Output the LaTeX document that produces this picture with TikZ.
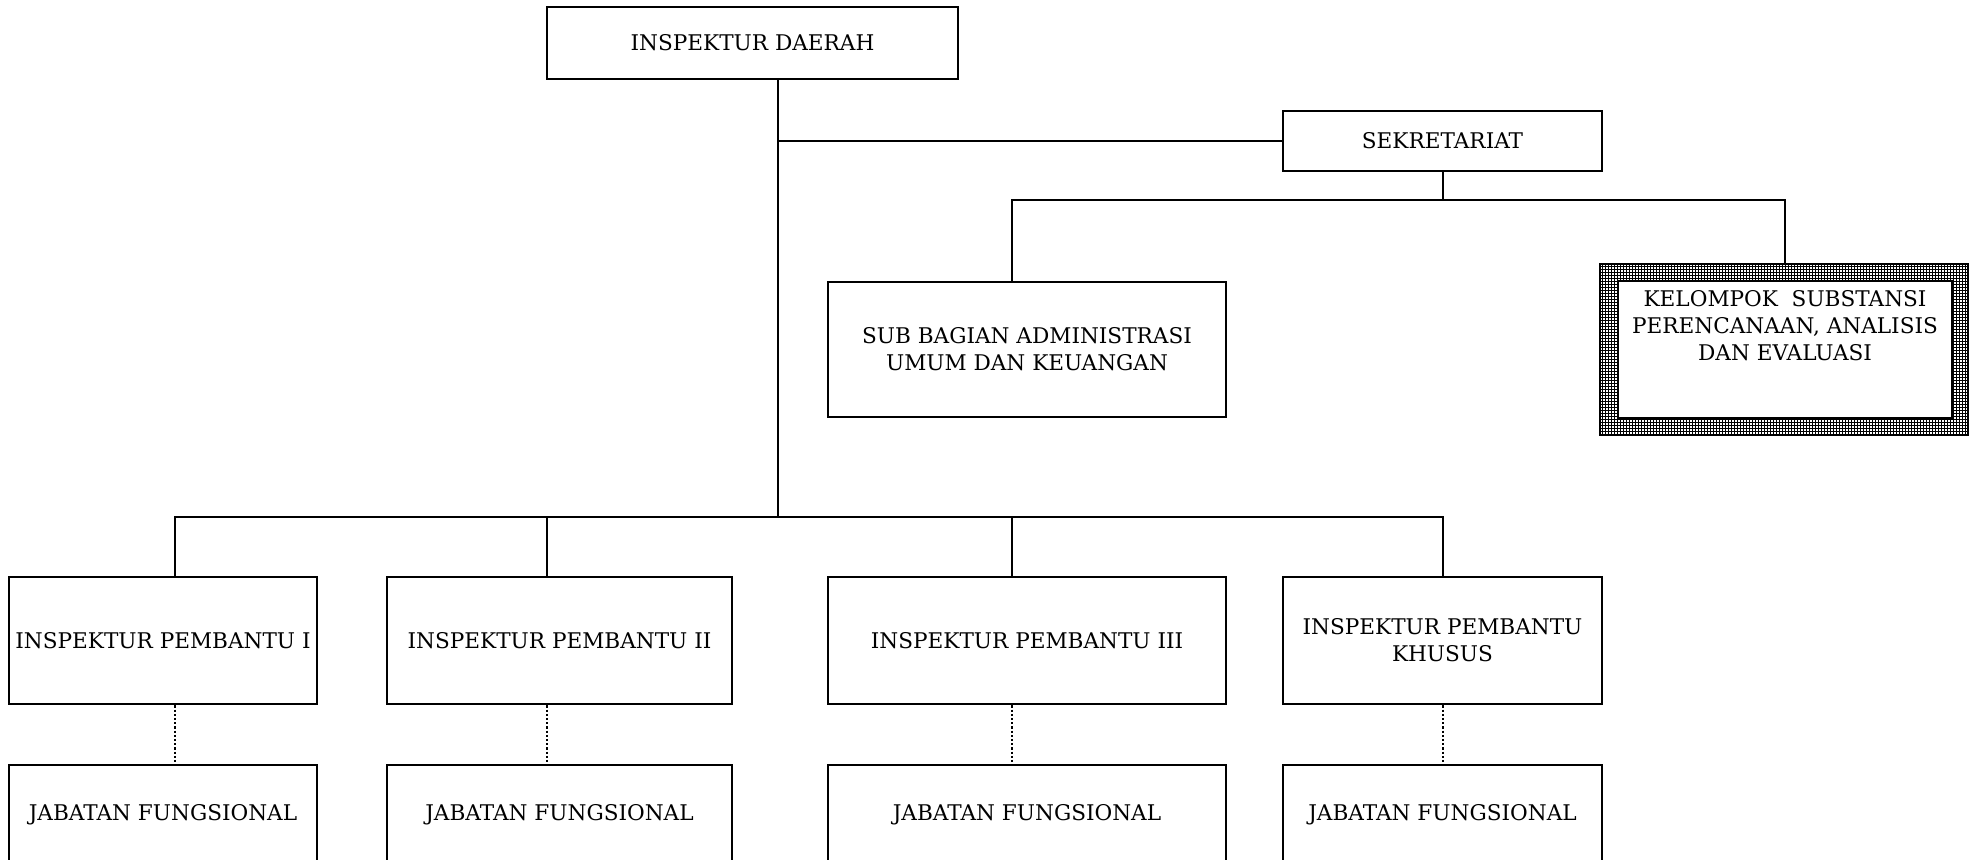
\documentclass[tikz,border=0pt]{standalone}
\usepackage{fontspec}
\setmainfont{DejaVu Serif}
\usetikzlibrary{patterns}

% fine square mesh used around the planning group box
\pgfdeclarepatternformonly{finegrid}{\pgfqpoint{-0.1pt}{-0.1pt}}{\pgfqpoint{1.6pt}{1.6pt}}{\pgfqpoint{1.5pt}{1.5pt}}{%
  \pgfsetlinewidth{0.42pt}%
  \pgfpathmoveto{\pgfqpoint{0pt}{0pt}}\pgfpathlineto{\pgfqpoint{1.5pt}{0pt}}%
  \pgfpathmoveto{\pgfqpoint{0pt}{0pt}}\pgfpathlineto{\pgfqpoint{0pt}{1.5pt}}%
  \pgfusepath{stroke}}

\tikzset{
  txt/.style={font=\fontsize{10.8}{13.5}\selectfont},
  unit/.style={draw, line width=1.4pt, inner sep=2pt, align=center, txt},
  link/.style={line width=1.4pt},
  sublink/.style={line width=1.1pt, densely dotted},
}

\begin{document}
\begin{tikzpicture}[x=0.5pt, y=-0.5pt]
\useasboundingbox (0,0) rectangle (1977,860);

% head of office and secretariat
\node[unit, minimum width=205.5pt, minimum height=36pt] (top) at (752.5,43) {INSPEKTUR DAERAH};
\node[unit, minimum width=159.5pt, minimum height=30pt] (sek) at (1442.5,141) {SEKRETARIAT};
\node[unit, minimum width=199pt, minimum height=67.5pt] (sub) at (1027,349.5) {SUB BAGIAN ADMINISTRASI\\UMUM DAN KEUANGAN};

% planning group: meshed frame with an inner white box
\node[draw, line width=0.8pt, pattern=finegrid, minimum width=184pt, minimum height=85.5pt] (kel) at (1784,349.5) {};
\node[draw, fill=white, line width=1.4pt, minimum width=167pt, minimum height=68.5pt] (kelin) at (1785,349.5) {};
\node[align=center, inner sep=0pt, anchor=north, txt] (keltext) at (1785,290)
  {KELOMPOK\ \ SUBSTANSI\\PERENCANAAN, ANALISIS\\DAN EVALUASI};

% assistant inspectors
\node[unit, minimum width=154pt, minimum height=63.5pt] (b1) at (163,640.5) {INSPEKTUR PEMBANTU I};
\node[unit, minimum width=172.5pt, minimum height=63.5pt] (b2) at (559.5,640.5) {INSPEKTUR PEMBANTU II};
\node[unit, minimum width=199pt, minimum height=63.5pt] (b3) at (1027,640.5) {INSPEKTUR PEMBANTU III};
\node[unit, minimum width=159.5pt, minimum height=63.5pt] (b4) at (1442.5,640.5) {INSPEKTUR PEMBANTU\\KHUSUS};

% functional positions
\node[unit, minimum width=154pt, minimum height=50pt] (j1) at (163,815) {JABATAN FUNGSIONAL};
\node[unit, minimum width=172.5pt, minimum height=50pt] (j2) at (559.5,815) {JABATAN FUNGSIONAL};
\node[unit, minimum width=199pt, minimum height=50pt] (j3) at (1027,815) {JABATAN FUNGSIONAL};
\node[unit, minimum width=159.5pt, minimum height=50pt] (j4) at (1442.5,815) {JABATAN FUNGSIONAL};

% junction points
\coordinate (trunk) at (778,517);
\coordinate (sM) at (1443,200);
\coordinate (sL) at (1012,200);
\coordinate (sR) at (1785,200);
\coordinate (c1) at (175,517);
\coordinate (c2) at (547,517);
\coordinate (c3) at (1012,517);
\coordinate (c4) at (1443,517);

% main line of command
\draw[link] (top.south -| trunk) -- (trunk);
\draw[link] (sek.west) -- (sek.west -| trunk);
\draw[link] (sek.south -| sM) -- (sM);
\draw[link] (sub.north -| sL) -- (sL) -- (sR) -- (kel.north -| sR);
\draw[link] (b1.north -| c1) -- (c1) -- (c4) -- (b4.north -| c4);
\draw[link] (c2) -- (b2.north -| c2);
\draw[link] (c3) -- (b3.north -| c3);

% coordination lines
\draw[sublink] (b1.south -| c1) -- (j1.north -| c1);
\draw[sublink] (b2.south -| c2) -- (j2.north -| c2);
\draw[sublink] (b3.south -| c3) -- (j3.north -| c3);
\draw[sublink] (b4.south -| c4) -- (j4.north -| c4);
\end{tikzpicture}
\end{document}
